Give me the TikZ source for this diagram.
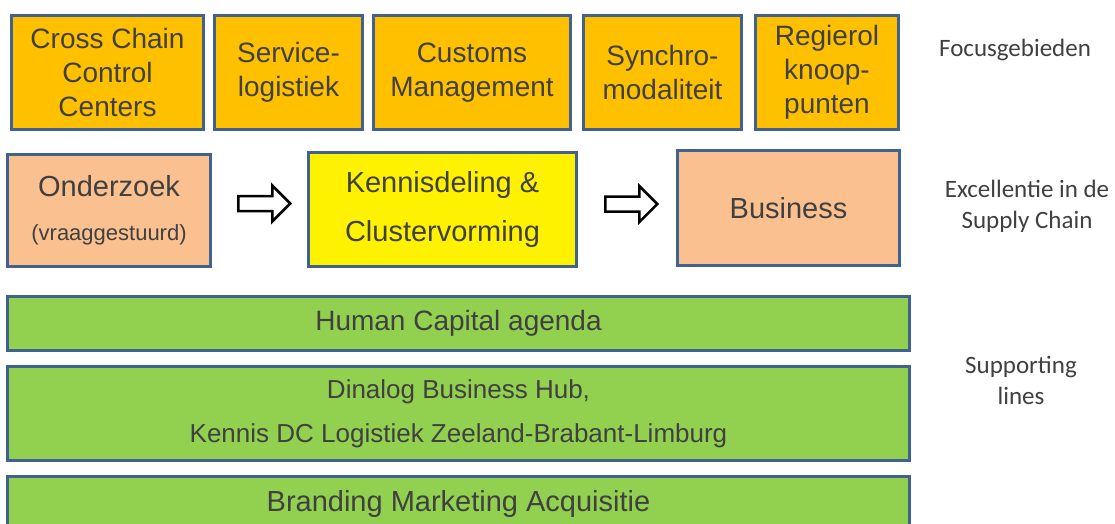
\documentclass[tikz,border=0pt]{standalone}
\usepackage{fontspec}
\setmainfont{Liberation Sans}
\newfontfamily\calibri{Carlito}
\usetikzlibrary{positioning}
\usetikzlibrary{shapes.arrows}
\definecolor{boxline}{HTML}{41628E}
\definecolor{focusfill}{HTML}{FFC000}
\definecolor{salmonfill}{HTML}{FAC090}
\definecolor{supportfill}{HTML}{92D050}
\definecolor{txtgray}{HTML}{404040}
\tikzset{
   box/.style={draw=boxline, line width=3pt, text=txtgray, align=center, inner sep=0pt},
   focus/.style={box, fill=focusfill, minimum height=114pt, font=\fontsize{28}{34}\selectfont},
   excel/.style={box, minimum height=114pt, font=\fontsize{29}{49}\selectfont},
   support/.style={box, fill=supportfill, minimum width=902pt},
   blockarrow/.style={single arrow, draw=black, fill=white, line width=2.5pt, inner sep=0pt,
      text height=12.5pt, text depth=0pt, minimum height=52pt, minimum width=0pt,
      single arrow head extend=10.5pt, anchor=tail},
   sidelabel/.style={text=txtgray, align=center, font=\calibri\fontsize{25}{31}\selectfont}
}

\begin{document}
\begin{tikzpicture}[x=1pt,y=-1pt]
   \path[use as bounding box, fill=white] (0,0) rectangle (1115,523);
   \clip (0,0) rectangle (1115,523);

   \node[focus, minimum width=192pt] (cccc) at (107.5,72.5) {Cross Chain\\Control\\Centers};
   \node[focus, minimum width=148pt, right=8pt of cccc] (service) {Service-\\logistiek};
   \node[focus, minimum width=197pt, right=8pt of service] (customs) {Customs\\Management};
   \node[focus, minimum width=158pt, right=10pt of customs] (synchro) {Synchro-\\modaliteit};
   \node[focus, minimum width=143pt, right=11pt of synchro] (regie) {Regierol\\knoop-\\punten};

   \node[excel, fill=salmonfill, minimum width=203pt, minimum height=112pt] (onderzoek) at (109,210.5)
      {Onderzoek\\[-5pt]{\fontsize{22}{26}\selectfont(vraaggestuurd)}};
   \node[blockarrow] (arr1) at (237,203.5) {};
   \node[excel, fill=yellow, minimum width=268pt] (kennis) at (442.5,209.5) {Kennisdeling \&\\Clustervorming};
   \node[blockarrow] (arr2) at (604,204) {};
   \node[excel, fill=salmonfill, minimum width=222pt, minimum height=115pt] (business) at (788.5,208) {Business};

   \node[support, minimum height=54pt, font=\fontsize{28}{34}\selectfont] (human) at (458.5,323.5) {Human Capital agenda};
   \node[support, minimum height=94pt, font=\fontsize{26}{44}\selectfont, below=13pt of human] (dinalog)
      {Dinalog Business Hub,\\Kennis DC Logistiek Zeeland-Brabant-Limburg};
   \node[support, minimum height=54pt, font=\fontsize{29}{34}\selectfont, below=13pt of dinalog] (branding)
      {Branding Marketing Acquisitie};

   \node[sidelabel] (focuslbl) at (1015,50) {Focusgebieden};
   \node[sidelabel] (excellbl) at (1027,206) {Excellentie in de\\Supply Chain};
   \node[sidelabel] (supplbl) at (1021,380) {Supporting\\lines};
\end{tikzpicture}
\end{document}
